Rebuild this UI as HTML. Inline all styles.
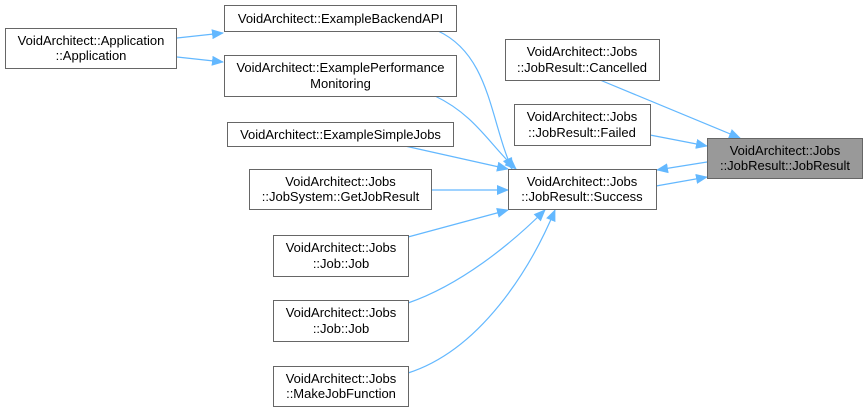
<!DOCTYPE html>
<html><head><meta charset="utf-8"><style>
html,body{margin:0;padding:0;background:#fff;}
svg{display:block;}
text{font-family:"Liberation Sans",sans-serif;font-size:13px;fill:#000;}
</style></head><body>
<svg width="868" height="412" viewBox="0 0 868 412" xmlns="http://www.w3.org/2000/svg">
<defs>
<marker id="a" markerWidth="12" markerHeight="10" refX="11" refY="5" orient="auto" markerUnits="userSpaceOnUse">
<path d="M0,0 L12,5 L0,10 Z" fill="#63b8ff"/>
</marker>
</defs>
<g fill="none" stroke="#63b8ff" stroke-width="1.2" marker-end="url(#a)">
<path d="M177,38 L223,33"/>
<path d="M177,57 L223,62"/>
<path d="M438,31 C490,55 490,120 512,169"/>
<path d="M435,96 C475,115 490,145 516,169"/>
<path d="M405,146 L508,169"/>
<path d="M432,190 L508,190"/>
<path d="M408,237 L508,210"/>
<path d="M408,303 C460,285 510,245 545,210"/>
<path d="M408,373 C480,350 530,270 555,210"/>
<path d="M600,80 L740,138"/>
<path d="M650,135 L707,146"/>
<path d="M656,186 L707,177"/>
<path d="M707,162 L657,170"/>
</g>
<g stroke="#666" stroke-width="1" fill="#fff">
<rect x="5.5" y="28.5" width="171" height="40"/>
<rect x="224.5" y="5.5" width="232" height="26"/>
<rect x="224.5" y="55.5" width="232" height="41"/>
<rect x="227.5" y="122.5" width="226" height="24"/>
<rect x="249.5" y="169.5" width="182" height="40"/>
<rect x="273.5" y="235.5" width="135" height="41"/>
<rect x="273.5" y="300.5" width="135" height="41"/>
<rect x="273.5" y="366.5" width="135" height="40"/>
<rect x="508.5" y="169.5" width="148" height="40"/>
<rect x="505.5" y="39.5" width="154" height="41"/>
<rect x="514.5" y="104.5" width="136" height="41"/>
<rect x="707.5" y="138.5" width="155" height="40" fill="#999"/>
</g>
<g text-anchor="middle">
<text x="91" y="45">VoidArchitect::Application</text>
<text x="91" y="60">::Application</text>
<text x="340.5" y="23">VoidArchitect::ExampleBackendAPI</text>
<text x="340.5" y="72">VoidArchitect::ExamplePerformance</text>
<text x="340.5" y="88">Monitoring</text>
<text x="340.5" y="139">VoidArchitect::ExampleSimpleJobs</text>
<text x="340.5" y="186">VoidArchitect::Jobs</text>
<text x="340.5" y="201">::JobSystem::GetJobResult</text>
<text x="341" y="252">VoidArchitect::Jobs</text>
<text x="341" y="268">::Job::Job</text>
<text x="341" y="317">VoidArchitect::Jobs</text>
<text x="341" y="333">::Job::Job</text>
<text x="341" y="383">VoidArchitect::Jobs</text>
<text x="341" y="398">::MakeJobFunction</text>
<text x="582" y="186">VoidArchitect::Jobs</text>
<text x="582" y="201">::JobResult::Success</text>
<text x="582" y="56">VoidArchitect::Jobs</text>
<text x="582" y="72">::JobResult::Cancelled</text>
<text x="582" y="121">VoidArchitect::Jobs</text>
<text x="582" y="137">::JobResult::Failed</text>
<text x="785" y="155">VoidArchitect::Jobs</text>
<text x="785" y="170">::JobResult::JobResult</text>
</g>
</svg>
</body></html>
